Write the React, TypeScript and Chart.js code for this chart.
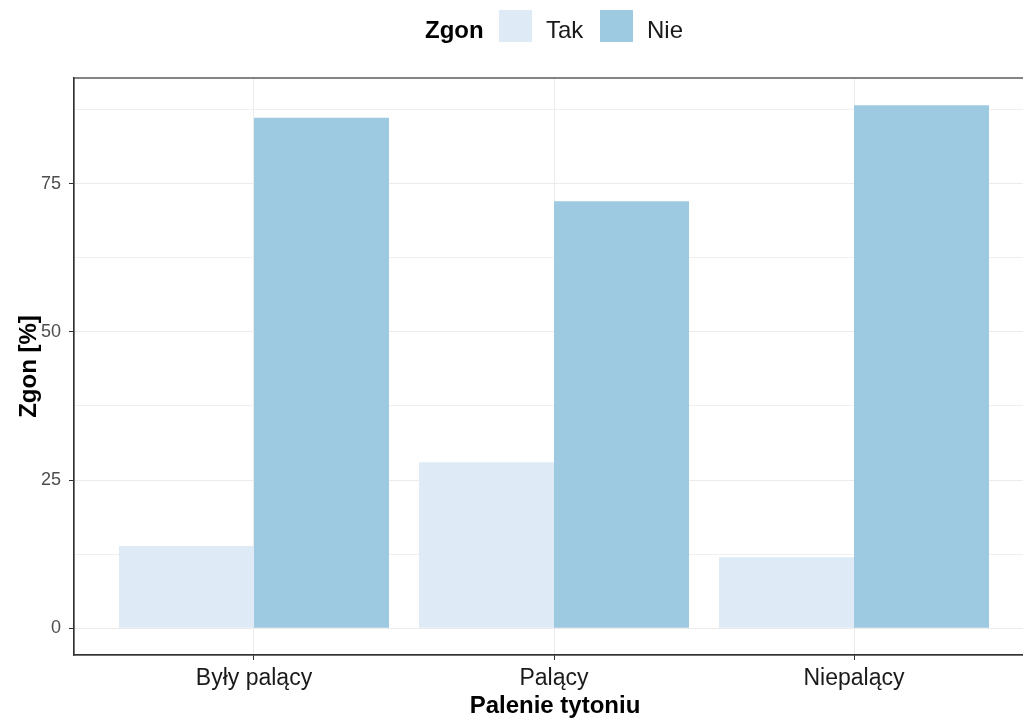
import React, { useEffect, useRef } from "react";
import { Chart, registerables } from "chart.js";

Chart.register(...registerables);

const categories = ["Były palący", "Palący", "Niepalący"];
const seriesNames = ["Tak", "Nie"];
const takValues = [13.9, 28.0, 12.0];
const nieValues = [86.1, 72.0, 88.2];
const yTickValues = [0, 12.5, 25, 37.5, 50, 62.5, 75, 87.5];
const yMajorTicks = [0, 25, 50, 75];
const colors = ["#DEEBF7", "#9ECAE1"];

const FONT = "'Liberation Sans', Arial, sans-serif";

const decorPlugin = {
  id: "decor",
  afterDraw(chart: any) {
    const ctx = chart.ctx;
    const a = chart.chartArea;
    ctx.save();
    // panel border
    ctx.strokeStyle = "#333333";
    ctx.lineWidth = 1.2;
    ctx.strokeRect(a.left, a.top, a.right - a.left, a.bottom - a.top);

    // axis titles
    ctx.fillStyle = "#000000";
    ctx.font = `bold 24px ${FONT}`;
    ctx.textAlign = "center";
    ctx.textBaseline = "alphabetic";
    ctx.fillText("Palenie tytoniu", (a.left + a.right) / 2 + 1, 713);
    ctx.save();
    ctx.translate(36, (a.top + a.bottom) / 2);
    ctx.rotate(-Math.PI / 2);
    ctx.fillText("Zgon [%]", 0, 0);
    ctx.restore();

    // legend
    ctx.textAlign = "left";
    ctx.font = `bold 24px ${FONT}`;
    ctx.fillText("Zgon", 425, 38);
    ctx.font = `24px ${FONT}`;
    const boxX = [499, 600];
    const textX = [546, 647];
    seriesNames.forEach((name, i) => {
      ctx.fillStyle = colors[i];
      ctx.fillRect(boxX[i], 10, 33, 32);
      ctx.fillStyle = "#1A1A1A";
      ctx.fillText(name, textX[i], 38);
    });
    ctx.restore();
  },
};

export default function App() {
  const ref = useRef<HTMLCanvasElement | null>(null);
  useEffect(() => {
    if (!ref.current) return;
    const chart = new Chart(ref.current, {
      type: "bar",
      data: {
        datasets: [
          {
            label: seriesNames[0],
            data: takValues.map((v, i) => ({ x: i + 1, y: v })),
            backgroundColor: colors[0],
            borderWidth: 0,
          },
          {
            label: seriesNames[1],
            data: nieValues.map((v, i) => ({ x: i + 1, y: v })),
            backgroundColor: colors[1],
            borderWidth: 0,
          },
        ],
      },
      plugins: [decorPlugin],
      options: {
        responsive: false,
        animation: false,
        events: [],
        layout: { padding: { top: 78, left: 0, right: 6, bottom: 0 } },
        datasets: { bar: { categoryPercentage: 0.9, barPercentage: 1.0 } },
        plugins: { legend: { display: false }, tooltip: { enabled: false } },
        scales: {
          x: {
            type: "linear",
            offset: false,
            min: 0.4,
            max: 3.6,
            afterBuildTicks: (s: any) => {
              s.ticks = categories.map((_, i) => ({ value: i + 1 }));
            },
            afterFit: (s: any) => {
              s.height = 66;
            },
            border: { display: true, color: "#333333", width: 1.2 },
            grid: {
              offset: false,
              color: "#EBEBEB",
              lineWidth: 1,
              tickLength: 5,
              tickColor: "#333333",
            },
            ticks: {
              autoSkip: false,
              maxRotation: 0,
              padding: 5,
              color: "#1A1A1A",
              font: { family: FONT, size: 23 },
              callback: (v: any) => categories[Math.round(Number(v)) - 1] ?? "",
            },
          },
          y: {
            min: -4.5,
            max: 92.8,
            afterBuildTicks: (s: any) => {
              s.ticks = yTickValues.map((v) => ({ value: v }));
            },
            afterFit: (s: any) => {
              s.width = 74;
            },
            border: { display: true, color: "#333333", width: 1.2 },
            grid: {
              color: (c: any) => (yMajorTicks.includes(c.tick?.value) ? "#EBEBEB" : "#F0F0F0"),
              lineWidth: 1,
              tickLength: 5,
              tickColor: (c: any) => (yMajorTicks.includes(c.tick?.value) ? "#333333" : "rgba(0,0,0,0)"),
            },
            ticks: {
              padding: 8,
              color: "#4D4D4D",
              font: { family: FONT, size: 18 },
              callback: (v: any) => (yMajorTicks.includes(Number(v)) ? String(v) : ""),
            },
          },
        },
      },
    } as any);
    return () => chart.destroy();
  }, []);
  return (
    <div style={{ position: "fixed", left: 0, top: 0, width: 1023, height: 721, overflow: "hidden", background: "#fff" }}>
      <canvas ref={ref} width={1040} height={721} style={{ display: "block" }} />
    </div>
  );
}
